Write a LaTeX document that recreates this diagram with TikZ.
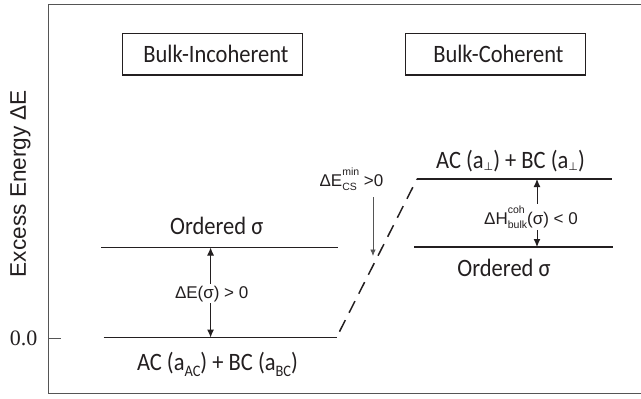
\documentclass[tikz,border=0pt]{standalone}
\usepackage{fontspec}
\setmainfont{Carlito}[FakeStretch=0.9]
\newfontfamily\arialf{Liberation Sans}
\newfontfamily\serifnum{Liberation Serif}
\newfontfamily\symf{DejaVu Sans}
\usetikzlibrary{arrows.meta}
\definecolor{ink}{HTML}{231F20}
\definecolor{framec}{HTML}{555555}

% subscripts of the lattice parameters
\newcommand\lvlsub[1]{\raisebox{-6.5pt}{\fontsize{16}{16}\selectfont #1}}
\newcommand\perpsub{\raisebox{-2.5pt}{\symf\fontsize{11}{11}\selectfont ⊥}}
% superscript stacked over subscript
\newcommand\stackidx[2]{{\fontsize{10.5}{10.5}\selectfont
  \setbox0\hbox{#1}\setbox2\hbox{#2}%
  \ifdim\wd0>\wd2 \wd2=\wd0\fi
  \rlap{\raisebox{10.5pt}{\box0}}\raisebox{-4pt}{\box2}}}

\begin{document}
\begin{tikzpicture}[x=1pt,y=-1pt,
  lvl/.style={draw=ink, line width=1.6pt},
  titlebox/.style={draw=ink, line width=1.3pt, minimum width=180pt,
    minimum height=41.5pt, inner sep=0pt, text=ink,
    font=\fontsize{25}{25}\selectfont},
  lvltext/.style={anchor=base, inner sep=0pt, text=ink,
    font=\fontsize{25}{25}\selectfont},
  smalllbl/.style={anchor=base, inner sep=1.5pt, text=ink,
    font=\arialf\fontsize{17}{17}\selectfont},
  varrow/.style={draw=ink, line width=1pt,
    {Latex[length=8pt,width=7pt]}-{Latex[length=8pt,width=7pt]}},
  csarrow/.style={draw=framec, line width=0.8pt,
    -{Latex[length=6.5pt,width=5.5pt]}}]
\useasboundingbox (0,0) rectangle (641,399);

% plot frame (open to the right) and the zero tick
\draw[framec, line width=1pt] (641,4.7) -- (48.3,4.7) -- (48.3,393.7) -- (641,393.7);
\coordinate (tick0) at (48.3,338);
\coordinate (tick1) at (61,338);
\draw[framec, line width=0.9pt] (tick0) -- (tick1);
\node[anchor=base east, inner sep=0pt, text=ink,
  font=\serifnum\fontsize{22}{22}\selectfont] (zero) at (37.5,345) {0.0};
\node[rotate=90, anchor=base, inner sep=0pt, text=ink,
  font=\arialf\fontsize{22.6}{22.6}\selectfont] (ylab) at (26,183.5) {Excess Energy ΔE};

% headings
\node[titlebox] (incoh) at (212.7,54.3) {\hspace{6.5pt}Bulk-Incoherent};
\node[titlebox] (coh) at (495.7,54.3) {\hspace{5.4pt}Bulk-Coherent};

% energy levels
\coordinate (ltA) at (101,247.5);   \coordinate (ltB) at (337.5,247.5);
\coordinate (lbA) at (103.5,337.5); \coordinate (lbB) at (336.5,337.5);
\coordinate (rtA) at (417,179);     \coordinate (rtB) at (612,179);
\coordinate (rbA) at (414,247);     \coordinate (rbB) at (613,247);
\draw[lvl] (ltA) -- (ltB);
\draw[lvl] (lbA) -- (lbB);
\draw[lvl] (rtA) -- (rtB);
\draw[lvl] (rbA) -- (rbB);

% coherency strain path
\draw[ink, line width=1.5pt, dash pattern=on 13pt off 8.3pt, dash phase=14.8pt] (lbB) -- (rtA);

% level gaps
\coordinate (la1) at (210.6,247.5); \coordinate (la2) at (210.6,337.5);
\coordinate (ra1) at (537,179);     \coordinate (ra2) at (537,247);
\draw[varrow] (la1) -- (la2);
\draw[varrow] (ra1) -- (ra2);
\coordinate (cs1) at (373,197);     \coordinate (cs2) at (373,256);
\draw[csarrow] (cs1) -- (cs2);

% labels
\node[smalllbl, fill=white] (dE) at (211.7,298) {ΔE(σ) > 0};
\node[smalllbl, fill=white] (dH) at (531,224) {ΔH\stackidx{coh}{bulk}(σ) < 0};
\node[smalllbl] (dEcs) at (351.5,186) {ΔE\stackidx{min}{CS} >0};

\node[lvltext] (ordL) at (216.7,234) {Ordered σ};
\node[lvltext] (baseL) at (217.5,370) {AC (a\lvlsub{AC}) + BC (a\lvlsub{BC})};
\node[lvltext] (perpR) at (510.5,168) {AC (a\perpsub) + BC (a\perpsub)};
\node[lvltext] (ordR) at (504,276) {Ordered σ};
\end{tikzpicture}
\end{document}
